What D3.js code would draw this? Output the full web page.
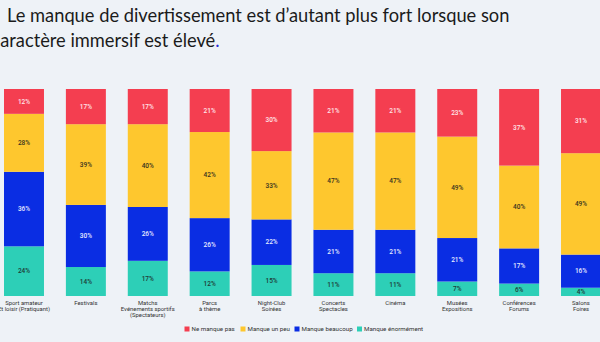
<!DOCTYPE html>
<html><head><meta charset="utf-8">
<script src="https://cdn.jsdelivr.net/npm/d3@7"></script>
<style>
html,body{margin:0;padding:0;background:#eef2f7;}
svg{display:block;}
</style></head>
<body>
<svg id="chart" width="600" height="342"></svg>
<script>
const categories = [
  ["Sport amateur","Et loisir (Pratiquant)"],
  ["Festivals"],
  ["Matchs","Evénements sportifs","(Spectateurs)"],
  ["Parcs","à thème"],
  ["Night-Club","Soirées"],
  ["Concerts","Spectacles"],
  ["Cinéma"],
  ["Musées","Expositions"],
  ["Conférences","Forums"],
  ["Salons","Foires"]
];
const seriesNames = ["Ne manque pas","Manque un peu","Manque beaucoup","Manque énormément"];
const neManquePas     = [12,17,17,21,30,21,21,23,37,31];
const manqueUnPeu     = [28,39,40,42,33,47,47,49,40,49];
const manqueBeaucoup  = [36,30,26,26,22,21,21,21,17,16];
const manqueEnormement= [24,14,17,12,15,11,11,7,6,4];
const colors = ["#f43e50","#fec72e","#0a2de3","#2dcfb7"];
const textColors = ["#ffe6ea","#3a3320","#e6ebff","#1f3a36"];

const svg = d3.select("#chart");

// Title
const title = svg.append("text").attr("font-family","Lato, 'Open Sans', sans-serif")
  .attr("font-size",18.3).attr("fill","#1b1b1b");
title.append("tspan").attr("x",7).attr("y",22).text("Le manque de divertissement est d’autant plus fort lorsque son");
title.append("tspan").attr("x",-8.5).attr("y",47).text("caractère immersif est élevé");
title.append("tspan").attr("fill","#2b2bd6").text(".");

const keys = categories.map((c,i)=>i);
const rows = keys.map(i=>({i, a:neManquePas[i], b:manqueUnPeu[i], c:manqueBeaucoup[i], d:manqueEnormement[i]}));
const stack = d3.stack().keys(["d","c","b","a"]).offset(d3.stackOffsetExpand);
const stacked = stack(rows);
const colorOf = {a:colors[0], b:colors[1], c:colors[2], d:colors[3]};
const tcOf = {a:textColors[0], b:textColors[1], c:textColors[2], d:textColors[3]};

const x = d3.scaleBand().domain(keys).range([4,601]).paddingInner(0.354).paddingOuter(0);
const y = d3.scaleLinear().domain([0,1]).range([296,89]);

const g = svg.append("g");
stacked.forEach(s=>{
  const gg = g.append("g");
  gg.selectAll("rect").data(s).join("rect")
    .attr("x",d=>x(d.data.i)).attr("width",x.bandwidth())
    .attr("y",d=>y(d[1])).attr("height",d=>y(d[0])-y(d[1]))
    .attr("fill",colorOf[s.key]);
  gg.selectAll("text").data(s).join("text")
    .attr("x",d=>x(d.data.i)+x.bandwidth()/2)
    .attr("y",d=>(y(d[0])+y(d[1]))/2)
    .attr("dy","0.35em").attr("text-anchor","middle")
    .attr("font-family","Roboto, sans-serif").attr("font-size",6.5).attr("font-weight",500)
    .attr("fill",tcOf[s.key])
    .text(d=>d.data[s.key]+"%");
});

// x axis labels
const xAxis = d3.axisBottom(x).tickSize(0).tickFormat("");
const ax = svg.append("g").attr("transform","translate(0,296)").call(xAxis);
ax.select(".domain").remove();
ax.selectAll(".tick").each(function(i){
  const t = d3.select(this).append("text").attr("fill","#333")
    .attr("font-family","Roboto, sans-serif").attr("font-size",5.9).attr("text-anchor","middle");
  categories[i].forEach((line,k)=>{
    t.append("tspan").attr("x",0).attr("y",9.0+k*6.2).text(line);
  });
});

// legend
const legendX = [184.5,240.5,294.5,357];
const lg = svg.append("g");
seriesNames.forEach((n,k)=>{
  lg.append("rect").attr("x",legendX[k]).attr("y",326.5).attr("width",5).attr("height",5).attr("fill",colors[k]);
  lg.append("text").attr("x",legendX[k]+7).attr("y",331.2).attr("font-family","Roboto, sans-serif")
    .attr("font-size",6.2).attr("fill","#333").text(n);
});
</script>
</body></html>
